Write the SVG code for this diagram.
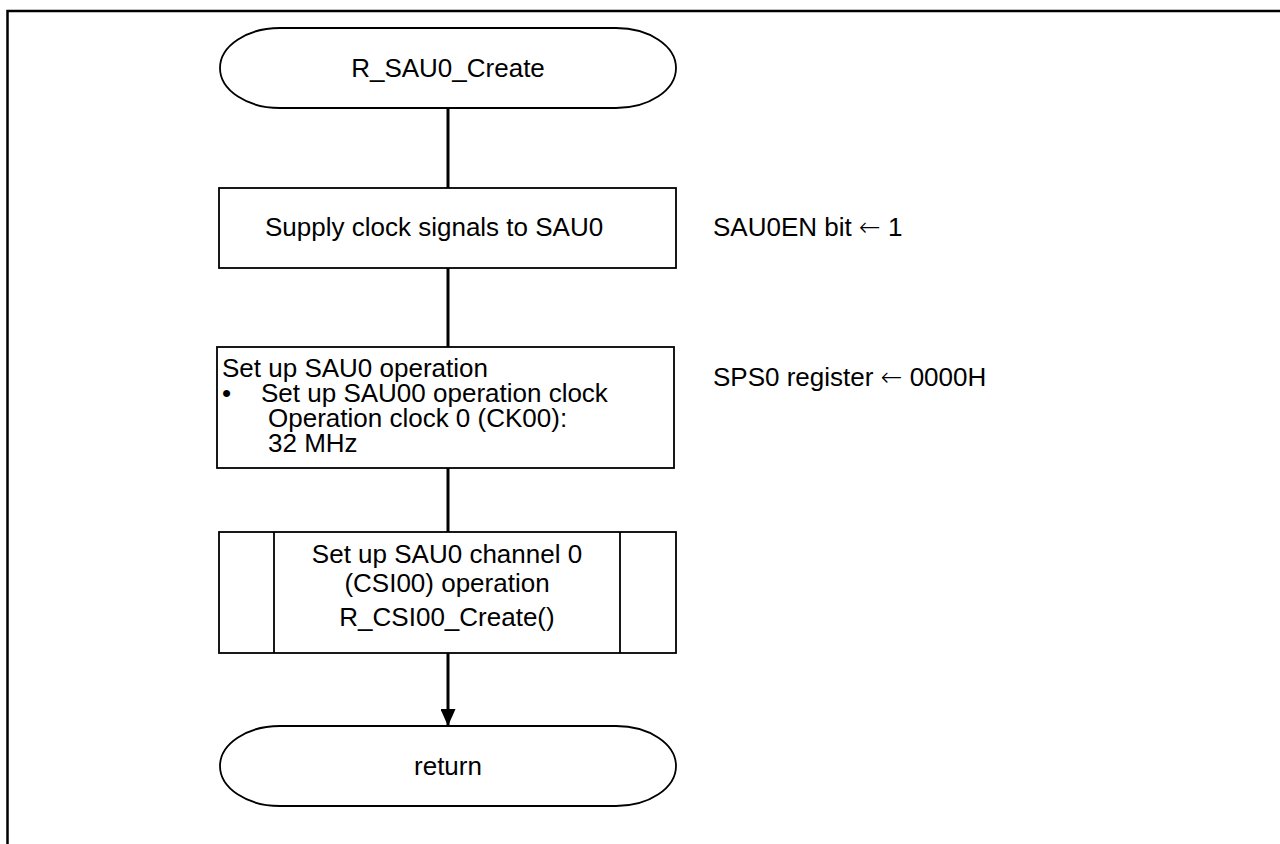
<svg xmlns="http://www.w3.org/2000/svg" width="1280" height="844" viewBox="0 0 1280 844">
<style>
text { font-family: "Liberation Sans", Arial, sans-serif; font-size: 26px; fill: #000; }
.c { text-anchor: middle; }
.ar { font-family: "DejaVu Sans", sans-serif; font-weight: 300; }
.shape { fill: #fff; stroke: #000; stroke-width: 1.8; }
.conn { stroke: #000; stroke-width: 3; fill: none; }
</style>
<defs>
<marker id="arr" viewBox="0 0 17 15" refX="17" refY="7.5" markerWidth="17" markerHeight="15" markerUnits="userSpaceOnUse" orient="auto">
<path d="M0,0 L17,7.5 L0,15 z" fill="#000"/>
</marker>
</defs>
<rect width="1280" height="844" fill="#fff"/>
<path d="M7.5,844 V11 H1280" fill="none" stroke="#000" stroke-width="2.5"/>
<g id="connectors">
<line class="conn" x1="448" y1="108" x2="448" y2="188"/>
<line class="conn" x1="448" y1="268" x2="448" y2="347"/>
<line class="conn" x1="448" y1="467" x2="448" y2="532"/>
<line class="conn" x1="448" y1="653" x2="448" y2="726" marker-end="url(#arr)"/>
</g>
<g id="start">
<path class="shape" d="M280,28 H616 A60,40 0 0 1 616,108 H280 A60,40 0 0 1 280,28 Z"/>
<text class="c" x="448" y="77">R_SAU0_Create</text>
</g>
<g id="supply">
<rect class="shape" x="219" y="188" width="457" height="80"/>
<text x="265" y="236">Supply clock signals to SAU0</text>
</g>
<text id="note1" x="713" y="236">SAU0EN bit <tspan class="ar">←</tspan> 1</text>
<g id="setup">
<rect class="shape" x="217" y="347" width="457" height="121"/>
<text x="222" y="377">Set up SAU0 operation</text>
<text x="222" y="402">•</text>
<text x="261" y="402">Set up SAU00 operation clock</text>
<text x="268" y="427">Operation clock 0 (CK00):</text>
<text x="268" y="452">32 MHz</text>
</g>
<text id="note2" x="713" y="386">SPS0 register <tspan class="ar">←</tspan> 0000H</text>
<g id="channel">
<rect class="shape" x="219" y="532" width="457" height="121"/>
<line class="shape" x1="274" y1="532" x2="274" y2="653"/>
<line class="shape" x1="620" y1="532" x2="620" y2="653"/>
<text class="c" x="447" y="563">Set up SAU0 channel 0</text>
<text class="c" x="447" y="592">(CSI00) operation</text>
<text class="c" x="447" y="626">R_CSI00_Create()</text>
</g>
<g id="return">
<path class="shape" d="M280,726 H616 A60,40 0 0 1 616,806 H280 A60,40 0 0 1 280,726 Z"/>
<text class="c" x="448" y="775">return</text>
</g>
</svg>
